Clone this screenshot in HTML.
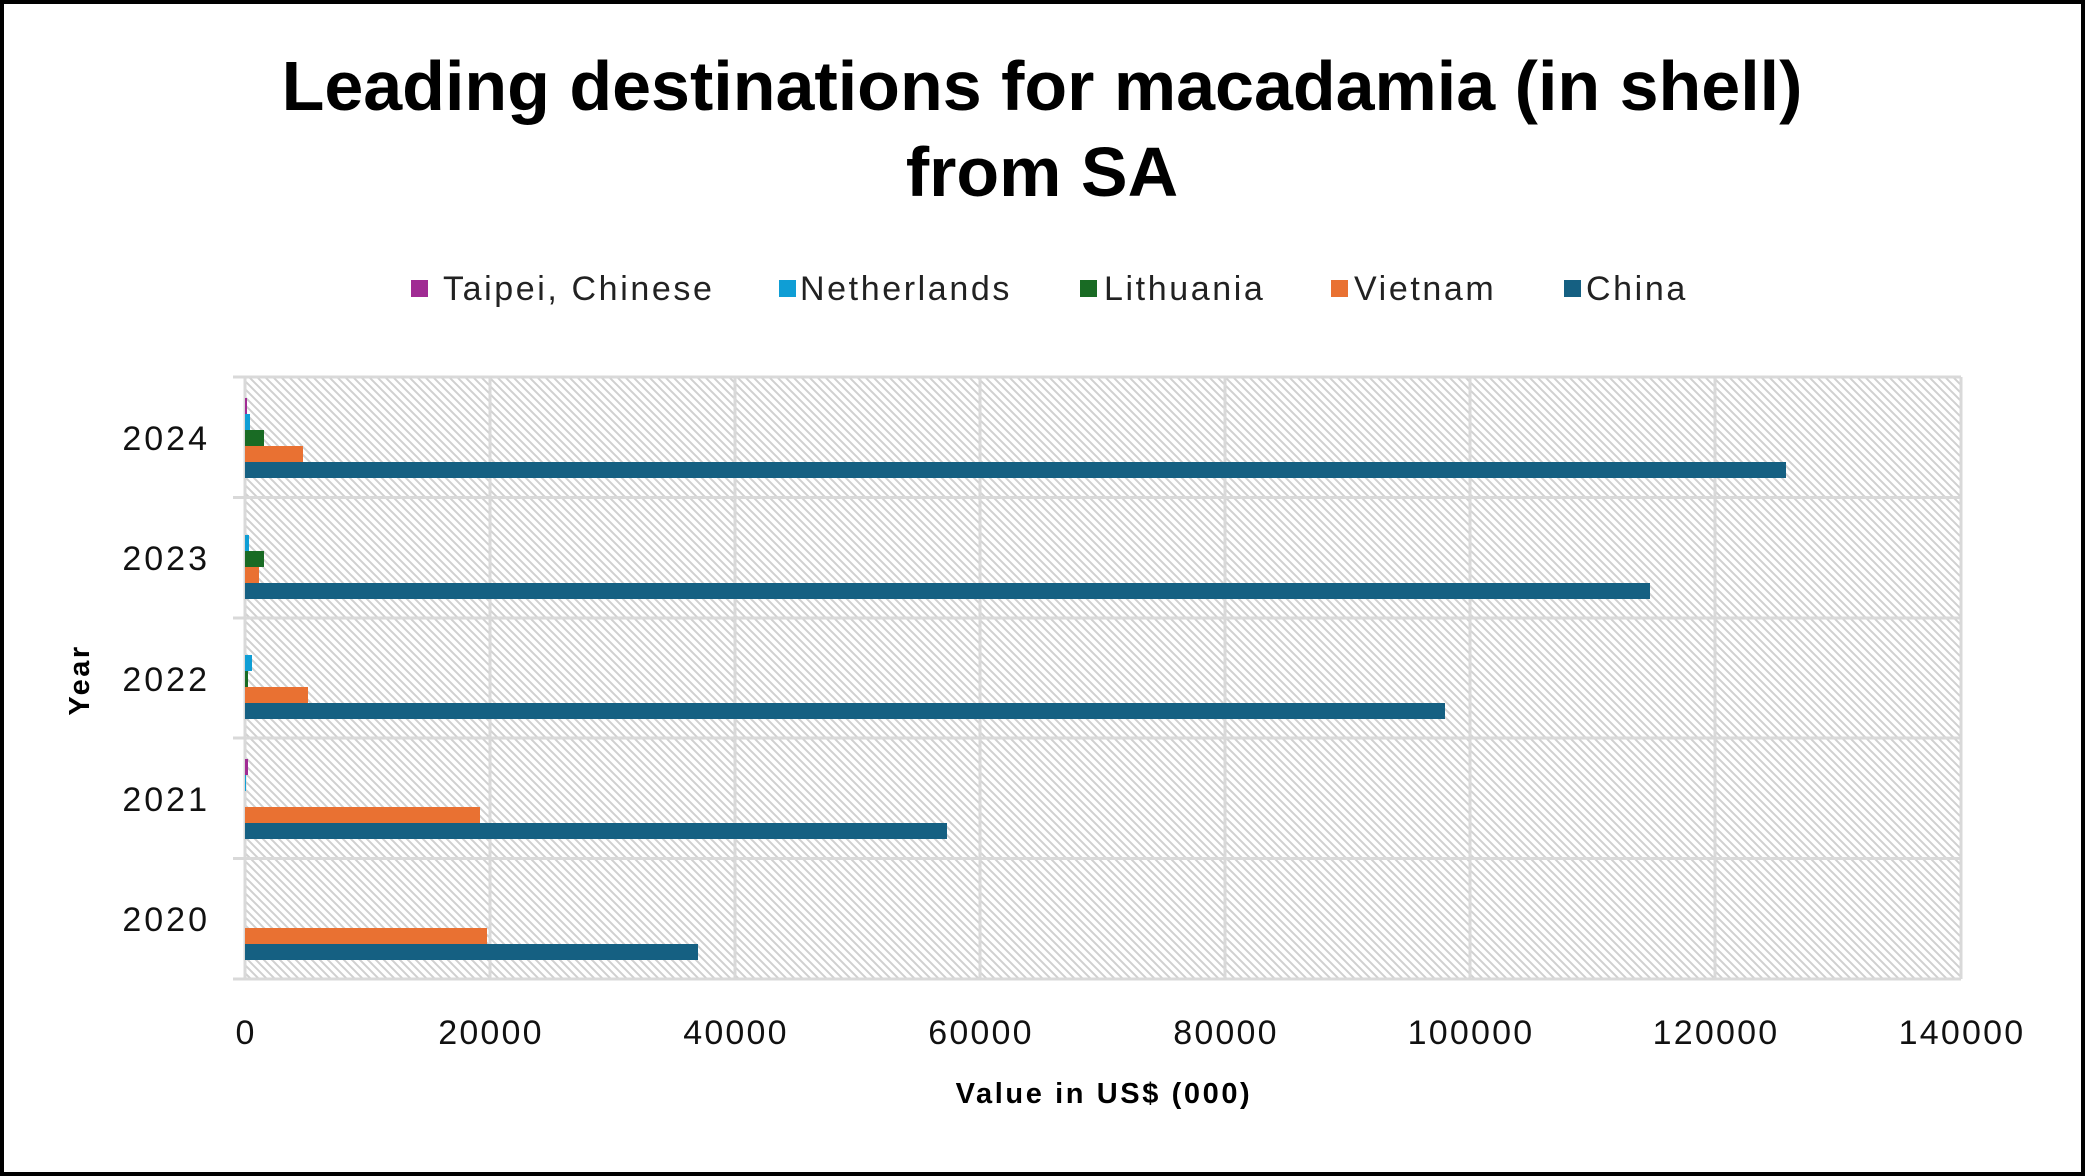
<!DOCTYPE html>
<html><head><meta charset="utf-8"><style>
html,body{margin:0;padding:0;background:#fff;}
svg{display:block;font-family:"Liberation Sans",sans-serif;}
</style></head><body>
<svg width="2085" height="1176" viewBox="0 0 2085 1176" xmlns="http://www.w3.org/2000/svg">
<defs>
<pattern id="h" patternUnits="userSpaceOnUse" width="8" height="8">
<rect width="8" height="8" fill="#fff"/>
<path d="M-2,2 L2,-2 M0,8 L8,0 M6,10 L10,6" stroke="#d0d0d0" stroke-width="2" transform="scale(-1,1) translate(-8,0)"/>
</pattern>
</defs>
<rect x="2" y="2" width="2081" height="1172" fill="#fff" stroke="#000" stroke-width="4"/>
<text x="1042" y="110" text-anchor="middle" font-size="70" font-weight="bold">Leading destinations for macadamia (in shell)</text>
<text x="1042" y="196" text-anchor="middle" font-size="70" font-weight="bold">from SA</text>
<g font-size="34" fill="#222" letter-spacing="2.6">
<rect x="411" y="280" width="17" height="17" fill="#a02b93"/><text x="443" y="300">Taipei, Chinese</text>
<rect x="779" y="280" width="17" height="17" fill="#0f9ed5"/><text x="800" y="300">Netherlands</text>
<rect x="1080" y="280" width="17" height="17" fill="#196b24"/><text x="1104" y="300">Lithuania</text>
<rect x="1331" y="280" width="17" height="17" fill="#e97132"/><text x="1354" y="300">Vietnam</text>
<rect x="1564" y="280" width="17" height="17" fill="#156082"/><text x="1586" y="300">China</text>
</g>
<rect x="245" y="377" width="1716" height="602" fill="url(#h)"/>
<g stroke="#d9d9d9" stroke-width="3">
<line x1="490" y1="377" x2="490" y2="979"/><line x1="735" y1="377" x2="735" y2="979"/>
<line x1="980" y1="377" x2="980" y2="979"/><line x1="1225" y1="377" x2="1225" y2="979"/>
<line x1="1470" y1="377" x2="1470" y2="979"/><line x1="1715" y1="377" x2="1715" y2="979"/>
<line x1="1961" y1="377" x2="1961" y2="979"/>
<line x1="233" y1="377" x2="1961" y2="377"/><line x1="233" y1="497.5" x2="1961" y2="497.5"/>
<line x1="233" y1="618" x2="1961" y2="618"/><line x1="233" y1="738" x2="1961" y2="738"/>
<line x1="233" y1="858.5" x2="1961" y2="858.5"/><line x1="233" y1="979" x2="1961" y2="979"/>
<line x1="245" y1="377" x2="245" y2="979"/>
</g>
<rect x="245" y="398" width="2" height="16" fill="#a02b93"/>
<rect x="245" y="414" width="5" height="16" fill="#0f9ed5"/>
<rect x="245" y="430" width="19" height="16" fill="#196b24"/>
<rect x="245" y="446" width="58" height="16" fill="#e97132"/>
<rect x="245" y="462" width="1541" height="16" fill="#156082"/>
<rect x="245" y="535" width="4" height="16" fill="#0f9ed5"/>
<rect x="245" y="551" width="19" height="16" fill="#196b24"/>
<rect x="245" y="567" width="14" height="16" fill="#e97132"/>
<rect x="245" y="583" width="1405" height="16" fill="#156082"/>
<rect x="245" y="655" width="7" height="16" fill="#0f9ed5"/>
<rect x="245" y="671" width="3" height="16" fill="#196b24"/>
<rect x="245" y="687" width="63" height="16" fill="#e97132"/>
<rect x="245" y="703" width="1200" height="16" fill="#156082"/>
<rect x="245" y="759" width="3" height="16" fill="#a02b93"/>
<rect x="245" y="775" width="1" height="16" fill="#0f9ed5"/>
<rect x="245" y="807" width="235" height="16" fill="#e97132"/>
<rect x="245" y="823" width="702" height="16" fill="#156082"/>
<rect x="245" y="928" width="242" height="16" fill="#e97132"/>
<rect x="245" y="944" width="453" height="16" fill="#156082"/>
<g font-size="34" fill="#111" text-anchor="end" letter-spacing="3">
<text x="210" y="450">2024</text><text x="210" y="570">2023</text>
<text x="210" y="691">2022</text><text x="210" y="811">2021</text>
<text x="210" y="931">2020</text>
</g>
<g font-size="34" fill="#111" text-anchor="middle" letter-spacing="2.2">
<text x="246" y="1044">0</text><text x="491" y="1044">20000</text><text x="736" y="1044">40000</text>
<text x="981" y="1044">60000</text><text x="1226" y="1044">80000</text><text x="1471" y="1044">100000</text>
<text x="1716" y="1044">120000</text><text x="1962" y="1044">140000</text>
</g>
<text x="1104" y="1103" text-anchor="middle" font-size="29" font-weight="bold" letter-spacing="2.6">Value in US$ (000)</text>
<text transform="translate(89,680) rotate(-90)" text-anchor="middle" font-size="29" font-weight="bold" letter-spacing="2.5">Year</text>
</svg>
</body></html>
